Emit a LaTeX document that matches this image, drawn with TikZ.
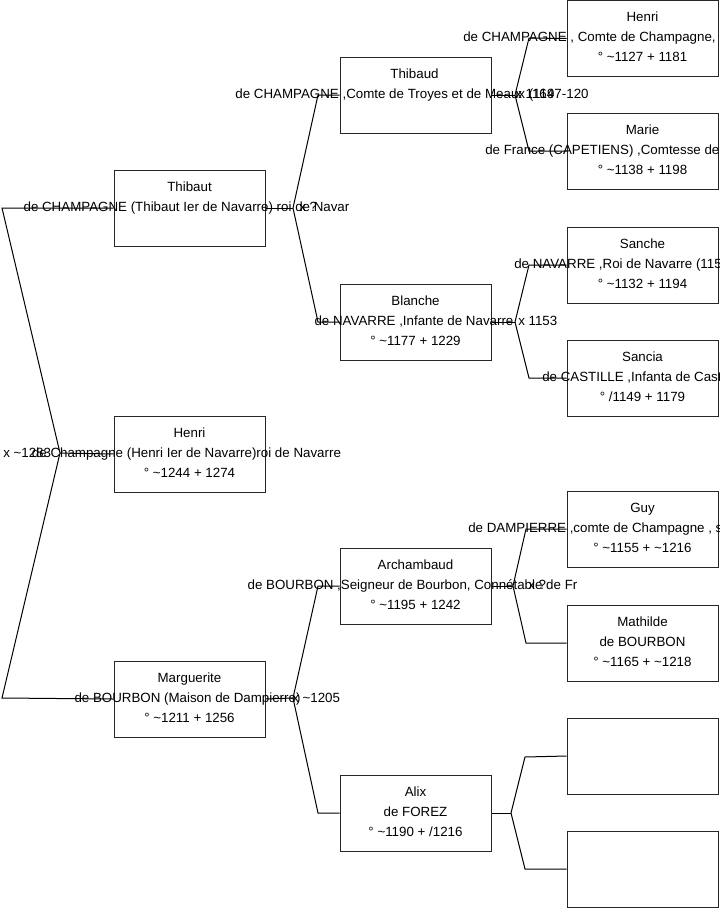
\documentclass[tikz,border=0pt]{standalone}
\usepackage{fontspec}
\setmainfont{Liberation Sans}
\begin{document}
\begin{tikzpicture}[x=0.75pt,y=-0.75pt,
  pbox/.style={draw=black!85,line width=0.75pt,minimum width=113.25pt,minimum height=57pt,inner sep=0pt,fill=white},
  ptext/.style={anchor=base,inner sep=0pt,font=\fontsize{10}{12}\selectfont},
  pleft/.style={anchor=base west,inner sep=0pt,font=\fontsize{10}{12}\selectfont},
  link/.style={draw=black,line width=0.75pt}]
\useasboundingbox (0,0) rectangle (719,908);
\clip (0,0) rectangle (719,908);
\fill[white] (0,0) rectangle (719,908);
% fork coordinates
\coordinate (r0) at (60,453);
\coordinate (rt) at (2,208);
\coordinate (rb) at (2,698);
\coordinate (f1) at (293,208);
\coordinate (f1a) at (318,95);
\coordinate (f1b) at (318,322);
\coordinate (f2) at (293,698);
\coordinate (f2a) at (318,586);
\coordinate (f2b) at (318,813);
\coordinate (g1) at (515,95);
\coordinate (g1a) at (529,38);
\coordinate (g1b) at (529,151);
\coordinate (g2) at (515,322);
\coordinate (g2a) at (529,265);
\coordinate (g2b) at (529,378);
\coordinate (g3) at (513,586);
\coordinate (g3a) at (526,529);
\coordinate (g3b) at (526,643);
\coordinate (g4) at (511,813);
\coordinate (g4a) at (525,757);
\coordinate (g4b) at (525,869);
% boxes
\node[pbox] (thibaut) at (189.5,208) {};
\node[pbox] (henri) at (189.5,454) {};
\node[pbox] (marguerite) at (189.5,699) {};
\node[pbox] (thibaud) at (415.5,95) {};
\node[pbox] (blanche) at (415.5,322) {};
\node[pbox] (archambaud) at (415.5,586) {};
\node[pbox] (alix) at (415.5,813) {};
\node[pbox] (henric) at (642.5,38.5) {};
\node[pbox] (marie) at (642.5,151) {};
\node[pbox] (sanche) at (642.5,265) {};
\node[pbox] (sancia) at (642.5,378) {};
\node[pbox] (guy) at (642.5,529) {};
\node[pbox] (mathilde) at (642.5,643) {};
\node[pbox] (empty1) at (642.5,756) {};
\node[pbox] (empty2) at (642.5,869) {};
% connectors
\draw[link] (thibaut.west) -- (rt) -- (r0) -- (rb) -- (marguerite.west);
\draw[link] (r0) -- (henri.west);
\draw[link] (thibaut.east) -- (f1);
\draw[link] (f1) -- (f1a) -- (thibaud.west);
\draw[link] (f1) -- (f1b) -- (blanche.west);
\draw[link] (marguerite.east) -- (f2);
\draw[link] (f2) -- (f2a) -- (archambaud.west);
\draw[link] (f2) -- (f2b) -- (alix.west);
\draw[link] (thibaud.east) -- (g1);
\draw[link] (g1) -- (g1a) -- (henric.west);
\draw[link] (g1) -- (g1b) -- (marie.west);
\draw[link] (blanche.east) -- (g2);
\draw[link] (g2) -- (g2a) -- (sanche.west);
\draw[link] (g2) -- (g2b) -- (sancia.west);
\draw[link] (archambaud.east) -- (g3);
\draw[link] (g3) -- (g3a) -- (guy.west);
\draw[link] (g3) -- (g3b) -- (mathilde.west);
\draw[link] (alix.east) -- (g4);
\draw[link] (g4) -- (g4a) -- (empty1.west);
\draw[link] (g4) -- (g4b) -- (empty2.west);
% texts
\node[ptext] (thibaut-a) at (189.5,191.7) {Thibaut};
\node[ptext] (thibaut-b) at (186.5,211.7) {de CHAMPAGNE (Thibaut Ier de Navarre) roi de Navar};
\node[ptext] (henri-a) at (189.5,437.7) {Henri};
\node[ptext] (henri-b) at (186.5,457.7) {de Champagne (Henri Ier de Navarre)roi de Navarre};
\node[ptext] (henri-c) at (189.5,477.7) {° \char"007E 1244 + 1274};
\node[ptext] (marguerite-a) at (189.5,682.7) {Marguerite};
\node[ptext] (marguerite-b) at (187.5,702.7) {de BOURBON (Maison de Dampierre)};
\node[ptext] (marguerite-c) at (189.5,722.7) {° \char"007E 1211 + 1256};
\node[ptext] (thibaud-a) at (414.5,78.7) {Thibaud};
\node[ptext] (thibaud-b) at (412,98.7) {de CHAMPAGNE ,Comte de Troyes et de Meaux (1197-120};
\node[ptext] (blanche-a) at (415.5,305.7) {Blanche};
\node[ptext] (blanche-b) at (414,325.7) {de NAVARRE ,Infante de Navarre};
\node[ptext] (blanche-c) at (415.5,345.7) {° \char"007E 1177 + 1229};
\node[ptext] (archambaud-a) at (415.5,569.7) {Archambaud};
\node[ptext] (archambaud-b) at (412.5,589.7) {de BOURBON ,Seigneur de Bourbon, Connétable de Fr};
\node[ptext] (archambaud-c) at (415.5,609.7) {° \char"007E 1195 + 1242};
\node[ptext] (alix-a) at (415.5,796.7) {Alix};
\node[ptext] (alix-b) at (415.5,816.7) {de FOREZ};
\node[ptext] (alix-c) at (415.5,836.7) {° \char"007E 1190 + /1216};
\node[ptext] (henric-a) at (642.5,21.7) {Henri};
\node[pleft] (henric-b) at (463,41.7) {de CHAMPAGNE , Comte de Champagne, C};
\node[ptext] (henric-c) at (642.5,61.7) {° \char"007E 1127 + 1181};
\node[ptext] (marie-a) at (642.5,134.7) {Marie};
\node[pleft] (marie-b) at (485,154.7) {de France (CAPETIENS) ,Comtesse de};
\node[ptext] (marie-c) at (642.5,174.7) {° \char"007E 1138 + 1198};
\node[ptext] (sanche-a) at (642.5,248.7) {Sanche};
\node[pleft] (sanche-b) at (514,268.7) {de NAVARRE ,Roi de Navarre (115};
\node[ptext] (sanche-c) at (642.5,288.7) {° \char"007E 1132 + 1194};
\node[ptext] (sancia-a) at (642.5,361.7) {Sancia};
\node[pleft] (sancia-b) at (542,381.7) {de CASTILLE ,Infanta de Cast};
\node[ptext] (sancia-c) at (642.5,401.7) {° /1149 + 1179};
\node[ptext] (guy-a) at (642.5,512.7) {Guy};
\node[pleft] (guy-b) at (468,532.7) {de DAMPIERRE ,comte de Champagne , s};
\node[ptext] (guy-c) at (642.5,552.7) {° \char"007E 1155 + \char"007E 1216};
\node[ptext] (mathilde-a) at (642.5,626.7) {Mathilde};
\node[ptext] (mathilde-b) at (642.5,646.7) {de BOURBON};
\node[ptext] (mathilde-c) at (642.5,666.7) {° \char"007E 1165 + \char"007E 1218};
% marriage labels
\node[pleft] (m0) at (3,457.7) {x \char"007E 1283};
\node[pleft] (m1) at (299,211.7) {x ?};
\node[pleft] (m2) at (292,702.7) {x \char"007E 1205};
\node[pleft] (m3) at (515,98.7) {x 1164};
\node[pleft] (m4) at (518,325.7) {x 1153};
\node[pleft] (m5) at (528,589.7) {x ?};
\end{tikzpicture}
\end{document}
